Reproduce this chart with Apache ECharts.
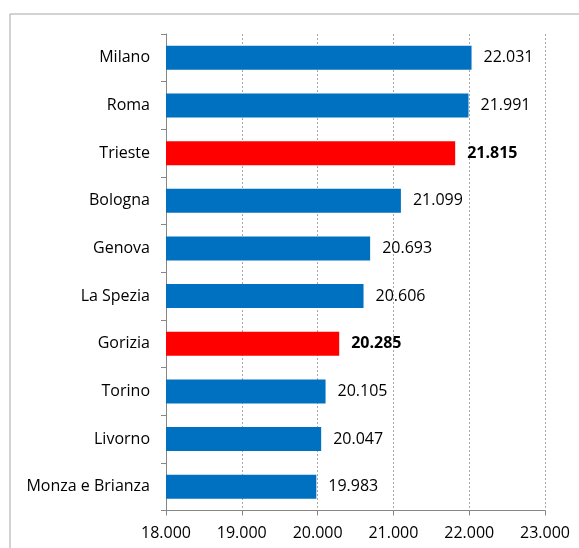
<!DOCTYPE html>
<html><head><meta charset="utf-8">
<script src="https://cdn.jsdelivr.net/npm/echarts@6/dist/echarts.min.js"></script>
<style>html,body{margin:0;padding:0;background:#fff}#c{width:579px;height:548px}</style>
</head><body><div id="c"></div>
<script>
const categories = ['Milano','Roma','Trieste','Bologna','Genova','La Spezia','Gorizia','Torino','Livorno','Monza e Brianza'];
const values = [22031,21991,21815,21099,20693,20606,20285,20105,20047,19983];
const highlighted = ['Trieste','Gorizia'];
const xTicks = [18000,19000,20000,21000,22000,23000];

const FONT = '"Open Sans", sans-serif';
function fmt(v){ return (v/1000).toFixed(3); }

const chart = echarts.init(document.getElementById('c'), null, {renderer:'canvas'});
chart.setOption({
  animation:false,
  backgroundColor:'#fff',
  graphic:[{type:'rect', shape:{x:10,y:14,width:700,height:700}, style:{fill:'none', stroke:'#a6a6a6', lineWidth:1}, silent:true}],
  grid:{left:166, right:34, top:34, bottom:37.5, containLabel:false},
  xAxis:{
    type:'value', min:xTicks[0], max:xTicks[xTicks.length-1], interval:1000,
    axisLine:{show:true, lineStyle:{color:'#868686'}},
    axisTick:{show:true, length:5, lineStyle:{color:'#868686'}},
    axisLabel:{formatter:fmt, color:'#000', fontFamily:FONT, fontSize:16, margin:15},
    splitLine:{show:true, lineStyle:{color:'#a6a6a6', type:[2,2]}}
  },
  yAxis:{
    type:'category', data:categories, inverse:true,
    axisLine:{show:true, lineStyle:{color:'#868686'}},
    axisTick:{show:true, length:5, lineStyle:{color:'#868686'}},
    axisLabel:{color:'#000', fontFamily:FONT, fontSize:16, margin:16}
  },
  series:[{
    type:'bar', barWidth:24,
    data: values.map((v,i)=>({value:v, itemStyle:{color: highlighted.includes(categories[i]) ? '#ff0000' : '#0070c0'},
      label:{fontWeight: highlighted.includes(categories[i]) ? 'bold' : 'normal'}})),
    label:{show:true, position:'right', distance:12, formatter:p=>fmt(p.value), color:'#000', fontFamily:FONT, fontSize:16}
  }]
});
</script></body></html>
